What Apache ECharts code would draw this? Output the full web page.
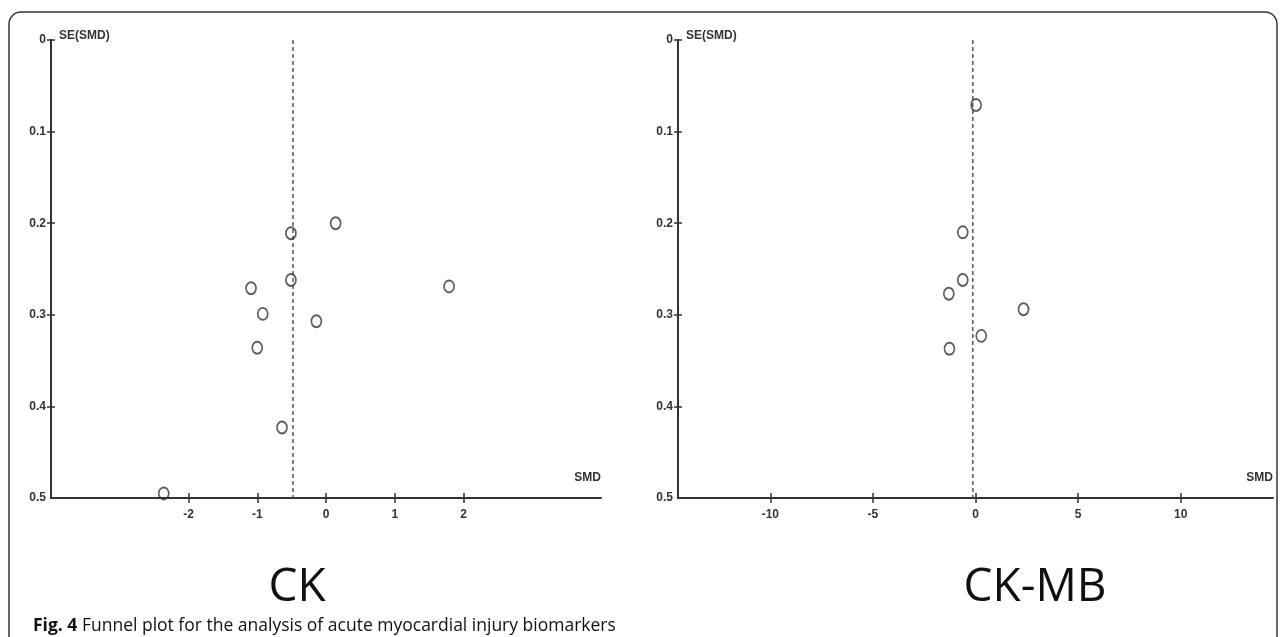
<!DOCTYPE html>
<html>
<head>
<meta charset="utf-8">
<title>Funnel plot</title>
<script src="https://cdn.jsdelivr.net/npm/echarts@6/dist/echarts.min.js"></script>
<style>
    html, body { margin: 0; padding: 0; background: #fff; }
    #chart { width: 1281px; height: 637px; }
</style>
</head>
<body>
<div id="chart"></div>
<script>
// CK panel
var ckSMD = [0.14, -0.51, -0.51, -1.09, 1.79, -0.92, -0.14, -1.00, -0.64, -2.36];
var ckSE = [0.200, 0.211, 0.262, 0.271, 0.269, 0.299, 0.307, 0.336, 0.423, 0.495];
var ckPooled = -0.48;
var ckXTicks = [-2, -1, 0, 1, 2];

// CK-MB panel
var ckmbSMD = [0.03, -0.62, -0.62, -1.30, 2.34, 0.28, -1.27];
var ckmbSE = [0.071, 0.210, 0.262, 0.277, 0.294, 0.323, 0.337];
var ckmbPooled = -0.13;
var ckmbXTicks = [-10, -5, 0, 5, 10];

var seTicks = [0, 0.1, 0.2, 0.3, 0.4, 0.5];
var seInnerTicks = [0, 0.1, 0.2, 0.3, 0.4];

var panelTitles = ['CK', 'CK-MB'];
var captionBold = 'Fig. 4';
var captionText = ' Funnel plot for the analysis of acute myocardial injury biomarkers';

var axisFont = "'Liberation Sans Narrow', 'Liberation Sans', Arial, sans-serif";
var textFont = "'Open Sans', 'Noto Sans', sans-serif";
var ink = '#333';

function pairs(xs, ys) {
    var res = [];
    for (var i = 0; i < xs.length; i++) {
        res.push([xs[i], ys[i]]);
    }
    return res;
}

function xAxes(gridIndex, min, max, ticks) {
    var main = {
        type: 'value', gridIndex: gridIndex, position: 'bottom',
        min: min, max: max,
        name: 'SMD', nameLocation: 'end', nameGap: 0,
        nameTextStyle: {
            color: ink, fontFamily: axisFont, fontWeight: 'bold', fontSize: 12,
            align: 'right', verticalAlign: 'bottom', padding: [0, 0, 14, 0]
        },
        axisLine: { onZero: false, lineStyle: { color: ink, width: 2 } },
        axisTick: { show: true, length: 5, customValues: ticks, lineStyle: { color: ink, width: 1.5 } },
        axisLabel: {
            customValues: ticks, color: ink, fontFamily: axisFont, fontWeight: 'bold',
            fontSize: 12, margin: 11
        },
        splitLine: { show: false }
    };
    // second copy of the axis only to draw the upper half of the cross ticks
    var inner = {
        type: 'value', gridIndex: gridIndex, position: 'bottom',
        min: min, max: max,
        axisLine: { show: false, onZero: false },
        axisTick: { show: true, inside: true, length: 5, customValues: ticks, lineStyle: { color: ink, width: 1.5 } },
        axisLabel: { show: false },
        splitLine: { show: false }
    };
    return [main, inner];
}

function yAxes(gridIndex) {
    var main = {
        type: 'value', gridIndex: gridIndex, position: 'left', inverse: true,
        min: 0, max: 0.5,
        name: 'SE(SMD)', nameLocation: 'start', nameGap: 0,
        nameTextStyle: {
            color: ink, fontFamily: axisFont, fontWeight: 'bold', fontSize: 12,
            align: 'left', verticalAlign: 'bottom', padding: [0, 0, -2, 8]
        },
        axisLine: { onZero: false, lineStyle: { color: ink, width: 2 } },
        axisTick: { show: true, length: 4, customValues: seInnerTicks, lineStyle: { color: ink, width: 1.5 } },
        axisLabel: {
            customValues: seTicks, color: ink, fontFamily: axisFont, fontWeight: 'bold',
            fontSize: 12, margin: 5,
            formatter: function (v) { return String(v); }
        },
        splitLine: { show: false }
    };
    var inner = {
        type: 'value', gridIndex: gridIndex, position: 'left', inverse: true,
        min: 0, max: 0.5,
        axisLine: { show: false, onZero: false },
        axisTick: { show: true, inside: true, length: 4, customValues: seInnerTicks, lineStyle: { color: ink, width: 1.5 } },
        axisLabel: { show: false },
        splitLine: { show: false }
    };
    return [main, inner];
}

function studies(xIdx, yIdx, data) {
    return {
        type: 'scatter', xAxisIndex: xIdx, yAxisIndex: yIdx,
        data: data,
        symbol: 'circle', symbolSize: [10, 12],
        itemStyle: { color: 'rgba(255,255,255,0)', borderColor: ink, borderWidth: 1.8 },
        z: 3
    };
}

function pooledLine(xIdx, yIdx, x) {
    return {
        type: 'line', xAxisIndex: xIdx, yAxisIndex: yIdx,
        data: [[x, 0], [x, 0.5]],
        symbol: 'none',
        lineStyle: { color: '#555', width: 1.5, type: [4, 3] },
        z: 2
    };
}

var chart = echarts.init(document.getElementById('chart'));

var option = {
    backgroundColor: '#ffffff',
    animation: false,
    grid: [
        { left: 51, top: 40, width: 550, height: 458 },
        { left: 678, top: 40, width: 595, height: 458 }
    ],
    xAxis: xAxes(0, -4, 4, ckXTicks).concat(xAxes(1, -14.5, 14.5, ckmbXTicks)),
    yAxis: yAxes(0).concat(yAxes(1)),
    series: [
        pooledLine(0, 0, ckPooled),
        studies(0, 0, pairs(ckSMD, ckSE)),
        pooledLine(2, 2, ckmbPooled),
        studies(2, 2, pairs(ckmbSMD, ckmbSE))
    ],
    graphic: [
        {
            type: 'rect', silent: true, z: 0,
            shape: { x: 9, y: 12, width: 1268, height: 700, r: 12 },
            style: { fill: 'none', stroke: ink, lineWidth: 1.5 }
        },
        {
            type: 'text', x: 297, y: 588,
            style: {
                text: panelTitles[0], align: 'center', verticalAlign: 'middle',
                font: '46px ' + textFont, fill: '#111'
            }
        },
        {
            type: 'text', x: 1035, y: 588,
            style: {
                text: panelTitles[1], align: 'center', verticalAlign: 'middle',
                font: '46px ' + textFont, fill: '#111'
            }
        },
        {
            type: 'text', x: 33, y: 626,
            style: {
                text: '{b|' + captionBold + '}{r|' + captionText + '}',
                verticalAlign: 'middle',
                rich: {
                    b: { fontFamily: textFont, fontWeight: 'bold', fontSize: 17.5, fill: '#111' },
                    r: { fontFamily: textFont, fontSize: 17.5, fill: '#111' }
                }
            }
        }
    ]
};

chart.setOption(option);
</script>
</body>
</html>
